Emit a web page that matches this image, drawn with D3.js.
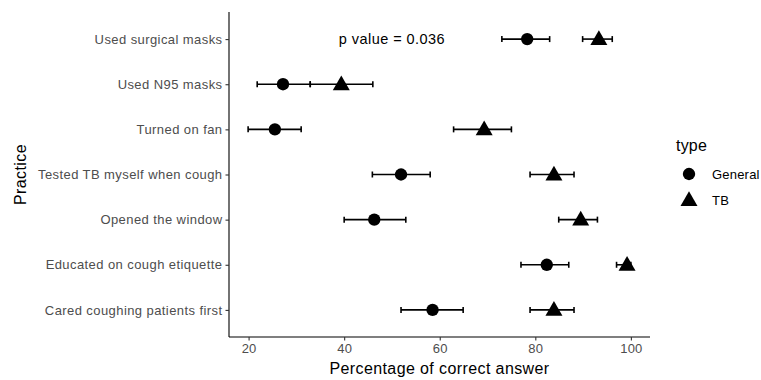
<!DOCTYPE html>
<html>
<head>
<meta charset="utf-8">
<script src="https://cdn.jsdelivr.net/npm/d3@7"></script>
<style>
  body { margin: 0; background: #fff; }
  text { font-family: "Liberation Sans", Arial, sans-serif; }
</style>
</head>
<body>
<div id="chart"></div>
<script>
// practices, top to bottom
const practices = [
  "Used surgical masks",
  "Used N95 masks",
  "Turned on fan",
  "Tested TB myself when cough",
  "Opened the window",
  "Educated on cough etiquette",
  "Cared coughing patients first"
];

// General
const generalMean = [78.3, 27.2, 25.5, 51.9, 46.3, 82.4, 58.5];
const generalLow  = [73.0, 21.8, 19.9, 45.9, 40.0, 77.0, 51.9];
const generalHigh = [83.0, 32.9, 31.0, 58.0, 52.9, 87.0, 64.9];

// TB
const tbMean = [93.3, 39.4, 69.3, 83.9, 89.5, 99.2, 83.9];
const tbLow  = [89.9, 32.9, 62.9, 78.9, 84.9, 97.0, 78.9];
const tbHigh = [96.1, 46.0, 75.0, 88.1, 93.0, 100.0, 88.1];

const xTicks = [20, 40, 60, 80, 100];
const types = ["General", "TB"];

const margin = { top: 12, right: 111, bottom: 43, left: 229 },
  width = 761,
  height = 380;

const svg = d3.select("#chart")
  .append("svg")
  .attr("width", width)
  .attr("height", height);

const x = d3.scaleLinear()
  .domain([15.9, 104])
  .range([margin.left, width - margin.right]);

// discrete axis with ggplot-like 0.6 expansion
const y = d3.scalePoint()
  .domain(practices)
  .range([margin.top, height - margin.bottom])
  .padding(0.6);

// rows
const rows = [];
practices.forEach((p, i) => {
  rows.push({ p: p, type: "General", m: generalMean[i], lo: generalLow[i], hi: generalHigh[i] });
  rows.push({ p: p, type: "TB", m: tbMean[i], lo: tbLow[i], hi: tbHigh[i] });
});

// x axis
const xAxis = svg.append("g")
  .attr("transform", `translate(0, ${height - margin.bottom})`)
  .call(d3.axisBottom(x).tickValues(xTicks).tickSize(3.5).tickPadding(3));
xAxis.select(".domain").attr("stroke", "#000").attr("stroke-width", 1.1).attr("d", `M${margin.left},0H${width - margin.right}`);
xAxis.selectAll(".tick line").attr("stroke", "#333").attr("stroke-width", 1.1);
xAxis.selectAll(".tick text").attr("fill", "#4d4d4d").style("font-size", "13px").style("letter-spacing", "0.2px");

// y axis
const yAxis = svg.append("g")
  .attr("transform", `translate(${margin.left}, 0)`)
  .call(d3.axisLeft(y).tickSize(3.5).tickPadding(3));
yAxis.select(".domain").attr("stroke", "#000").attr("stroke-width", 1.1).attr("d", `M0,${margin.top}V${height - margin.bottom}`);
yAxis.selectAll(".tick line").attr("stroke", "#333").attr("stroke-width", 1.1);
yAxis.selectAll(".tick text").attr("fill", "#4d4d4d").style("font-size", "13px").style("letter-spacing", "0.42px");

// error bars
const bars = svg.append("g").selectAll("g")
  .data(rows)
  .join("g")
  .attr("stroke", "#000")
  .attr("stroke-width", 1.6);
bars.append("line")
  .attr("x1", d => x(d.lo)).attr("x2", d => x(d.hi))
  .attr("y1", d => y(d.p)).attr("y2", d => y(d.p));
bars.append("line")
  .attr("x1", d => x(d.lo)).attr("x2", d => x(d.lo))
  .attr("y1", d => y(d.p) - 3).attr("y2", d => y(d.p) + 3);
bars.append("line")
  .attr("x1", d => x(d.hi)).attr("x2", d => x(d.hi))
  .attr("y1", d => y(d.p) - 3).attr("y2", d => y(d.p) + 3);

// points
const shape = d3.scaleOrdinal()
  .domain(types)
  .range([d3.symbolCircle, d3.symbolTriangle]);
const symSize = { General: 120, TB: 125 };

svg.append("g").selectAll("path")
  .data(rows)
  .join("path")
  .attr("transform", d => `translate(${x(d.m)}, ${y(d.p) + (d.type == "TB" ? 1 : 0)})`)
  .attr("d", d => d3.symbol().type(shape(d.type)).size(symSize[d.type])())
  .attr("fill", "#000");

// annotation
svg.append("text")
  .attr("x", x(50))
  .attr("y", y(practices[0]))
  .attr("dy", "0.35em")
  .attr("text-anchor", "middle")
  .style("font-size", "14.5px")
  .style("letter-spacing", "0.45px")
  .attr("fill", "#000")
  .text("p value = 0.036");

// axis titles
svg.append("text")
  .attr("x", (margin.left + width - margin.right) / 2)
  .attr("y", height - 6)
  .attr("text-anchor", "middle")
  .style("font-size", "16px")
  .style("letter-spacing", "0.4px")
  .text("Percentage of correct answer");

svg.append("text")
  .attr("transform", `translate(26, ${(margin.top + height - margin.bottom) / 2}) rotate(-90)`)
  .attr("text-anchor", "middle")
  .style("font-size", "16px")
  .style("letter-spacing", "0.4px")
  .text("Practice");

// legend
const legend = svg.append("g").attr("transform", "translate(676, 0)");
legend.append("text")
  .attr("x", 0).attr("y", 151)
  .style("font-size", "16px")
  .style("letter-spacing", "0.2px")
  .text("type");
const li = legend.selectAll("g")
  .data(types)
  .join("g")
  .attr("transform", (d, i) => `translate(0, ${174 + i * 26})`);
li.append("path")
  .attr("transform", d => `translate(13, ${d == "TB" ? 1 : 0})`)
  .attr("d", d => d3.symbol().type(shape(d)).size(symSize[d])())
  .attr("fill", "#000");
li.append("text")
  .attr("x", 36).attr("dy", "0.35em")
  .style("font-size", "13px")
  .style("letter-spacing", "0.2px")
  .text(d => d);
</script>
</body>
</html>
